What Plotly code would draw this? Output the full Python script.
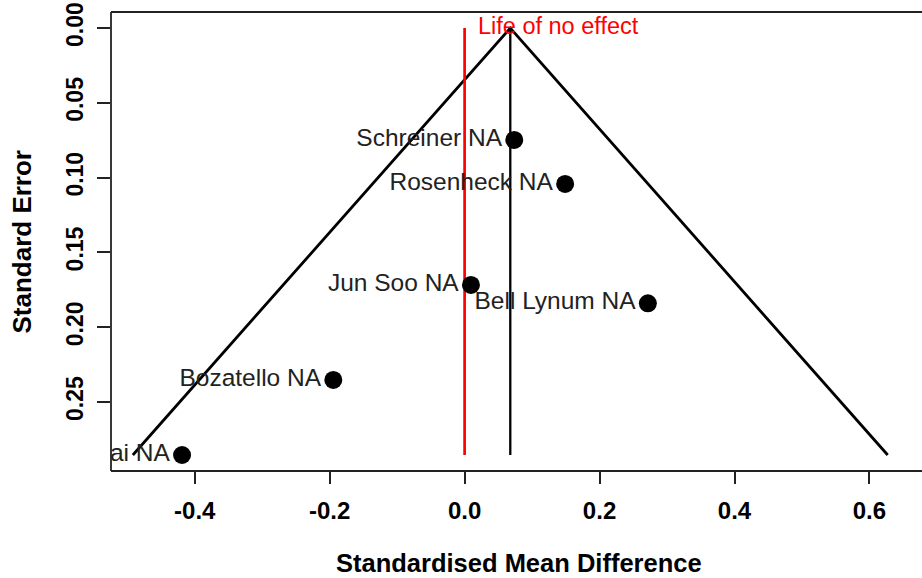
import plotly.graph_objects as go

# Study data
studies = ["Schreiner NA", "Rosenheck NA", "Jun Soo NA", "Bell Lynum NA", "Bozatello NA", "ai NA"]
smd = [0.0736, 0.149, 0.0094, 0.2716, -0.1946, -0.4188]
se = [0.0748, 0.1042, 0.1717, 0.184, 0.2352, 0.2854]

pooled = 0.0677          # pooled estimate (apex of funnel)
no_effect = 0.0          # line of no effect
z = 1.96

x_ticks = [-0.4, -0.2, 0.0, 0.2, 0.4, 0.6]
x_ticktext = ["-0.4", "-0.2", "0.0", "0.2", "0.4", "0.6"]
y_ticks = [0.00, 0.05, 0.10, 0.15, 0.20, 0.25]
y_ticktext = ["0.00", "0.05", "0.10", "0.15", "0.20", "0.25"]

se_max = max(se)
FONT = "Liberation Sans, Arial, Helvetica, sans-serif"

fig = go.Figure()

# Funnel (pseudo 95% CI)
fig.add_trace(go.Scatter(
    x=[pooled - z * se_max, pooled, pooled + z * se_max],
    y=[se_max, 0, se_max],
    mode="lines", line=dict(color="black", width=2.8),
    hoverinfo="skip", showlegend=False))
# Vertical line at pooled estimate
fig.add_trace(go.Scatter(
    x=[pooled, pooled], y=[0, se_max],
    mode="lines", line=dict(color="black", width=2.3),
    hoverinfo="skip", showlegend=False))
# Line of no effect
fig.add_trace(go.Scatter(
    x=[no_effect, no_effect], y=[0, se_max],
    mode="lines", line=dict(color="#ff0000", width=2.7),
    hoverinfo="skip", showlegend=False))
# Studies
fig.add_trace(go.Scatter(
    x=smd, y=se, mode="markers+text", text=studies,
    textposition="middle left",
    textfont=dict(family=FONT, size=24.5, color="#222222"),
    marker=dict(color="black", size=18),
    showlegend=False))

fig.add_annotation(x=no_effect, y=0, xref="x", yref="y", text="Life of no effect",
                   showarrow=False, xanchor="left", yanchor="middle", xshift=11, yshift=2,
                   font=dict(family=FONT, size=23.5, color="#ff0000"))

# Axis titles
fig.add_annotation(x=0.503, y=0, xref="paper", yref="paper", text="<b>Standardised Mean Difference</b>",
                   showarrow=False, xanchor="center", yanchor="middle", yshift=-92,
                   font=dict(family=FONT, size=25.5, color="black"))
fig.add_annotation(x=0, y=0.5, xref="paper", yref="paper", text="<b>Standard Error</b>",
                   showarrow=False, xanchor="center", yanchor="middle", xshift=-90, textangle=-90,
                   font=dict(family=FONT, size=26, color="black"))

# Box (left, top, bottom; right edge lies beyond the picture)
for x0, y0, x1, y1 in [(0, 0, 0, 1), (0, 1, 1, 1), (0, 0, 1, 0)]:
    fig.add_shape(type="line", xref="paper", yref="paper", x0=x0, y0=y0, x1=x1, y1=y1,
                  line=dict(color="#222222", width=1.8))

fig.update_xaxes(range=[-0.5241, 0.6779], tickvals=x_ticks, ticktext=x_ticktext,
                 ticks="outside", ticklen=12, tickwidth=1.5, tickcolor="#222222",
                 showgrid=False, zeroline=False, showline=False, automargin=False,
                 tickfont=dict(family=FONT, size=24, color="black", weight="bold"),
                 ticklabelstandoff=6, ticklabeloverflow="allow")
fig.update_yaxes(range=[0.2961, -0.01076], tickvals=y_ticks, ticktext=y_ticktext,
                 ticks="outside", ticklen=13, tickwidth=1.5, tickcolor="#222222",
                 showgrid=False, zeroline=False, showline=False, tickangle=-90, automargin=False,
                 tickfont=dict(family=FONT, size=23, color="black", weight="bold"),
                 ticklabelstandoff=5, ticklabeloverflow="allow")

fig.update_layout(width=922, height=578, margin=dict(l=111, r=0, t=12, b=107),
                  plot_bgcolor="white", paper_bgcolor="white")

# remove the default 8px page margin so the figure fills the window exactly
fig.write_html("out.html", config={"displayModeBar": False},
               post_script="document.body.style.margin='0';")
